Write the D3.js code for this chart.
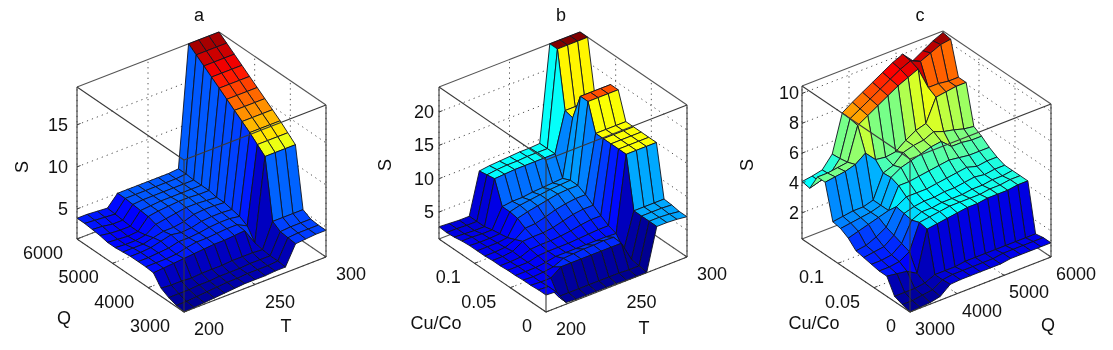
<!DOCTYPE html>
<html>
<head>
<meta charset="utf-8">
<script src="https://cdn.jsdelivr.net/npm/d3@7"></script>
<style>
  html, body { margin: 0; padding: 0; background: #fff; }
  svg { display: block; filter: blur(0.35px); }
  text { font-family: "Liberation Sans", Arial, sans-serif; fill: #111; }
</style>
</head>
<body>
<svg id="chart" width="1113" height="350"></svg>
<script>
// rows go from the low end of the y axis (index 0) to the high end, columns along the x axis
const tempTicks = [200, 250, 300];
const flowTicks = [3000, 4000, 5000, 6000];
const ratioTicks = [0, 0.05, 0.1];
const sTicksA = [5, 10, 15];
const sTicksB = [5, 10, 15, 20];
const sTicksC = [2, 4, 6, 8, 10];

const surfaceA = [
  [1.43,1.5,1.6,1.7,1.8,1.9,2,2,2,2.1,2.1,4.4,4.5,4.6,4.6],
  [1.6,1.6,1.7,1.8,1.9,2,2,2.1,2.1,2.1,2.2,4.5,4.6,4.6,4.6],
  [1.9,1.9,1.9,2,2,2.1,2.1,2.1,2.2,2.2,2.2,4.6,4.7,4.7,4.7],
  [2.4,2.3,2.3,2.2,2.3,2.3,2.3,2.4,2.4,2.4,2.3,5.2,5.2,5.2,5.2],
  [3.6,3.7,3.8,3.9,4,4.1,4.2,4.2,4.3,4.4,2.5,12.3,12.3,12.3,12.3],
  [3.7,3.7,3.7,3.8,4.1,4.3,4.3,4.4,4.5,4.5,3.9,13.1,13.1,13.1,13.1],
  [3.7,3.7,3.8,3.9,4.2,4.2,4.3,4.5,4.6,4.6,4.4,13.9,13.9,13.9,13.9],
  [3.7,3.7,3.8,4.1,4.4,4.2,4.3,4.6,4.7,4.7,4.6,14.6,14.6,14.6,14.6],
  [3.6,3.6,3.6,3.9,4.2,4.2,4.4,4.8,4.9,4.9,4.8,15.3,15.3,15.3,15.3],
  [3.5,3.4,3.4,3.6,4.4,4.6,4.8,5,5,4.9,4.8,16,16,16,16],
  [3.5,3.4,3.3,3.4,4.7,4.9,5,5.1,5.1,5,5,16.7,16.7,16.7,16.7],
  [3.7,3.5,3.4,3.4,4.8,4.9,5,5,5,5,5,17.4,17.4,17.4,17.4],
  [3.8,3.7,3.5,3.5,4.9,5,5,5,5,5,5,18.1,18.1,18.1,18.1],
  [3.9,3.8,3.7,3.6,5,5,5,5,5,5,5.1,18.8,18.8,18.8,18.8],
  [3.9,3.9,3.8,3.7,5,5,5,5,5,5,5.1,19.5,19.5,19.5,19.5]
];

const surfaceB = [
  [3.5,3.4,1.2,1.1,1.1,1.1,1.1,1.1,1,1,1,7.3,7.3,7.2,7],
  [3.5,3.4,1.3,1.3,1.3,1.3,1.3,1.3,1.3,1.2,1.2,7.3,7.3,7.2,7],
  [3.4,3.3,3.3,4.4,4.4,4.4,4.4,4.4,4.4,4.4,1.4,7.3,7.3,7.3,7.2],
  [3.4,3.3,3.4,3.6,4.3,4.4,4.5,4.5,4.6,4.5,2,7.3,7.3,7.3,7.3],
  [3.3,3.3,3.3,3.5,3.8,3.8,3.8,3.8,3.8,3.8,3.7,15,15,15,15],
  [3.3,3.3,3.3,3.7,3.8,3.8,3.8,3.9,4,4.1,4.1,15,15,15,15],
  [3.2,3.2,3.3,3.9,4,4,4.1,4.3,4.6,4.8,4.8,15,15,15,15],
  [3.2,3.2,3.4,4.3,4.4,4.4,4.6,5,5.4,5.6,5.6,15,15,15,15],
  [3.1,3.1,3.2,3.8,4.9,5,5.4,5.9,6.2,6.4,6.4,15,15,15,15],
  [3.1,3.1,3.1,3.3,5.6,6,6.3,6.6,6.9,7,7,19,19,19,19],
  [3.1,3,3,3.1,5.8,6.2,6.4,6.6,6.8,6.9,7,19,19,19,19],
  [3,3,2.9,2.9,5.8,6,6,6.2,6.3,6.4,6.5,15,15,15,15],
  [2.8,2.7,2.6,2.6,9.2,9.3,9.4,9.4,9.4,9.4,9.4,15.3,15.3,15.3,15.3],
  [2.7,2.7,2.6,2.6,9,9.2,9.3,9.3,9.4,9.4,9.4,23.75,23.75,23.75,23.75],
  [2.8,2.7,2.6,2.6,8.8,9,9.1,9.2,9.3,9.3,9.4,23.75,23.75,23.75,23.75]
];

const surfaceC = [
  [0.25,0.3,0.35,0.5,1.05,1.1,1.1,1.1,1.1,1.1,1.2,1.2,1.2,1.2,1.2],
  [0.4,0.4,0.5,0.6,1,1.1,1.1,1.1,1.1,1.1,1.2,1.2,1.2,1.2,1.2],
  [0.6,0.6,0.6,0.7,1,1,1,1.1,1.1,1.1,1.1,1.1,1.1,1.1,1.1],
  [1.6,1.5,1.4,1,3.7,3.8,3.9,4,4.1,4.1,4.2,4.2,4.2,4.3,4.3],
  [1.6,1.6,1.7,2.1,3.8,3.9,4,4.1,4.1,4.1,4.1,4.2,4.2,4.3,4.3],
  [1.7,1.7,1.8,2.3,3.6,3.9,3.9,4,4,4,4.1,4.1,4.2,4.2,4.3],
  [1.8,1.9,2,2.5,3.7,3.9,4,4,4.1,4.1,4.2,4.3,4.2,4.3,4.3],
  [1.9,2,2.3,2.7,3.8,4.2,4.2,4.2,4.3,4.4,4.5,4.6,4.4,4.5,4.5],
  [2.4,2.6,2.8,3,3.2,4.6,4.6,4.7,4.8,4.9,5,4.9,4.8,4.8,4.8],
  [2.7,2.8,2.9,3,3.2,4.8,5.2,5.4,5.6,5.8,5.9,5.3,5.3,5.2,5.2],
  [2.8,2.9,3,3,3.2,4.75,5,5.6,5.8,5.9,6.2,5.95,5.8,5.6,5.5],
  [5.1,5.2,5.3,5.5,6,5.3,5.2,5.3,5.8,6.2,6.4,7.9,8,8.1,8.1],
  [5.1,5.1,5.2,5.3,7.5,7.9,8.3,8.7,9.1,9.4,9.7,8.2,8.2,8.1,8.1],
  [4,4.2,4.4,5.2,7.6,8,8.4,8.8,9.2,9.6,9.9,9.6,9.9,10.2,10.3],
  [4.1,4.2,4.35,5.15,7.65,8.1,8.5,8.9,9.3,9.7,10,9.3,9.7,10.1,10.4]
];

const panels = [
  { title: "a", values: surfaceA, xDomain: [200, 300], yDomain: [3000, 6000], zDomain: [1.43, 19.5],
    xTicks: tempTicks, yTicks: flowTicks, zTicks: sTicksA, xName: "T", yName: "Q", zGap: 9,
    origin: [184, 312], xVec: [142, -55], yVec: [-107, -73], zLen: 152,
    titlePos: [199, 15], xNamePos: [286, 326], yNamePos: [64, 318], zNamePos: [22, 167] },
  { title: "b", values: surfaceB, xDomain: [200, 300], yDomain: [0, 0.15], zDomain: [0.96, 23.75],
    xTicks: tempTicks, yTicks: ratioTicks, zTicks: sTicksB, xName: "T", yName: "Cu/Co", zGap: 5,
    origin: [546, 312], xVec: [141, -55], yVec: [-107, -73], zLen: 152,
    titlePos: [561, 15], xNamePos: [644, 328], yNamePos: [436, 323], zNamePos: [385, 165] },
  { title: "c", values: surfaceC, xDomain: [3000, 6000], yDomain: [0, 0.15], zDomain: [0.25, 10.5],
    xTicks: flowTicks, yTicks: ratioTicks, zTicks: sTicksC, xName: "Q", yName: "Cu/Co", zGap: 3,
    origin: [910, 312], xVec: [141, -55], yVec: [-108, -73], zLen: 153,
    titlePos: [920, 15], xNamePos: [1048, 325], yNamePos: [814, 323], zNamePos: [747, 165] }
];

// matlab jet
const jet = d3.scaleLinear()
  .domain([0, 0.11, 0.365, 0.62, 0.87, 1])
  .range(["#00008f", "#0000ff", "#00ffff", "#ffff00", "#ff0000", "#800000"])
  .clamp(true);

const svg = d3.select("#chart");

function drawPanel(cfg) {
  const g = svg.append("g");
  const n = cfg.values.length - 1;
  const m = cfg.values[0].length - 1;

  const xPx = d3.scaleLinear().domain(cfg.xDomain).range([0, cfg.xVec[0]]);
  const xPy = d3.scaleLinear().domain(cfg.xDomain).range([0, cfg.xVec[1]]);
  const yPx = d3.scaleLinear().domain(cfg.yDomain).range([0, cfg.yVec[0]]);
  const yPy = d3.scaleLinear().domain(cfg.yDomain).range([0, cfg.yVec[1]]);
  const zPy = d3.scaleLinear().domain(cfg.zDomain).range([0, -cfg.zLen]);
  const colIdx = d3.scaleLinear().domain([0, m]).range(cfg.xDomain);
  const rowIdx = d3.scaleLinear().domain([0, n]).range(cfg.yDomain);
  const color = d3.scaleLinear().domain(cfg.zDomain).range([0, 1]);

  const project = (x, y, z) => [
    cfg.origin[0] + xPx(x) + yPx(y),
    cfg.origin[1] + xPy(x) + yPy(y) + zPy(z)
  ];

  const [x0, x1] = cfg.xDomain, [y0, y1] = cfg.yDomain, [z0, z1] = cfg.zDomain;
  const seg = (a, b) => d3.line()([project(...a), project(...b)]);
  const xTickEnd = x0 + (x1 - x0) * 0.025;
  const yTickEnd = y0 + (y1 - y0) * 0.025;

  const addLines = (list, cls, stroke, width, dash) => g.append("g").attr("class", cls)
    .selectAll("path").data(list).join("path")
    .attr("d", d => seg(d[0], d[1]))
    .attr("fill", "none").attr("stroke", stroke).attr("stroke-width", width)
    .attr("stroke-dasharray", dash);

  // dotted grid on the back walls and floor
  const grid = [];
  cfg.zTicks.forEach(z => {
    grid.push([[x0, y1, z], [x1, y1, z]]);
    grid.push([[x1, y1, z], [x1, y0, z]]);
  });
  cfg.xTicks.forEach(x => {
    grid.push([[x, y1, z0], [x, y1, z1]]);
    grid.push([[x, y0, z0], [x, y1, z0]]);
  });
  cfg.yTicks.forEach(y => {
    grid.push([[x1, y, z0], [x1, y, z1]]);
    grid.push([[x0, y, z0], [x1, y, z0]]);
  });
  addLines(grid, "grid", "#555", 1, "1.3 4");

  // back edges of the box
  addLines([
    [[x0, y1, z0], [x1, y1, z0]], [[x1, y1, z0], [x1, y0, z0]],
    [[x1, y1, z0], [x1, y1, z1]], [[x0, y1, z1], [x1, y1, z1]],
    [[x1, y1, z1], [x1, y0, z1]]
  ], "back", "#555", 1.1);

  // surface, back to front, colour taken from the low index corner like matlab flat shading
  const cells = [];
  for (let i = n - 1; i >= 0; i--) {
    for (let j = m - 1; j >= 0; j--) {
      cells.push({ i, j });
    }
  }
  const vertex = (i, j) => project(colIdx(j), rowIdx(i), cfg.values[i][j]);
  g.append("g").attr("class", "surface")
    .selectAll("path").data(cells).join("path")
    .attr("d", d => d3.line()([vertex(d.i, d.j), vertex(d.i, d.j + 1), vertex(d.i + 1, d.j + 1), vertex(d.i + 1, d.j)]) + "Z")
    .attr("fill", d => jet(color(cfg.values[d.i][d.j])))
    .attr("stroke", "#10131f").attr("stroke-width", 0.9).attr("stroke-linejoin", "round");

  // front edges of the box go over the surface
  addLines([
    [[x0, y0, z0], [x0, y0, z1]], [[x0, y1, z0], [x0, y1, z1]], [[x1, y0, z0], [x1, y0, z1]],
    [[x0, y0, z1], [x0, y1, z1]], [[x0, y0, z1], [x1, y0, z1]],
    [[x0, y0, z0], [x0, y1, z0]], [[x0, y0, z0], [x1, y0, z0]]
  ], "front", "#3a3a3a", 1.1);

  // tick marks
  const marks = [];
  cfg.zTicks.forEach(z => marks.push([[x0, y1, z], [xTickEnd, y1, z]]));
  cfg.xTicks.forEach(x => marks.push([[x, y0, z0], [x, yTickEnd, z0]]));
  cfg.yTicks.forEach(y => marks.push([[x0, y, z0], [xTickEnd, y, z0]]));
  addLines(marks, "marks", "#3a3a3a", 1);

  // tick labels
  const fs = 18;
  g.append("g").selectAll("text").data(cfg.zTicks).join("text")
    .attr("x", d => project(x0, y1, d)[0] - cfg.zGap)
    .attr("y", d => project(x0, y1, d)[1])
    .attr("text-anchor", "end").attr("dominant-baseline", "central").attr("font-size", fs)
    .text(d => d);
  g.append("g").selectAll("text").data(cfg.xTicks).join("text")
    .attr("x", d => project(d, y0, z0)[0] + 25)
    .attr("y", d => project(d, y0, z0)[1] + 17)
    .attr("text-anchor", "middle").attr("dominant-baseline", "central").attr("font-size", fs)
    .text(d => d);
  g.append("g").selectAll("text").data(cfg.yTicks).join("text")
    .attr("x", d => project(x0, d, z0)[0] - 14)
    .attr("y", d => project(x0, d, z0)[1] + 14)
    .attr("text-anchor", "end").attr("dominant-baseline", "central").attr("font-size", fs)
    .text(d => d);

  // names
  const name = (pos, txt, size) => g.append("text")
    .attr("x", pos[0]).attr("y", pos[1])
    .attr("text-anchor", "middle").attr("dominant-baseline", "central").attr("font-size", size)
    .text(txt);
  name(cfg.titlePos, cfg.title, 18);
  name(cfg.xNamePos, cfg.xName, 18);
  name(cfg.yNamePos, cfg.yName, 18);
  name(cfg.zNamePos, "S", 18).attr("transform", `rotate(-90,${cfg.zNamePos[0]},${cfg.zNamePos[1]})`);
}

panels.forEach(drawPanel);
</script>
</body>
</html>
